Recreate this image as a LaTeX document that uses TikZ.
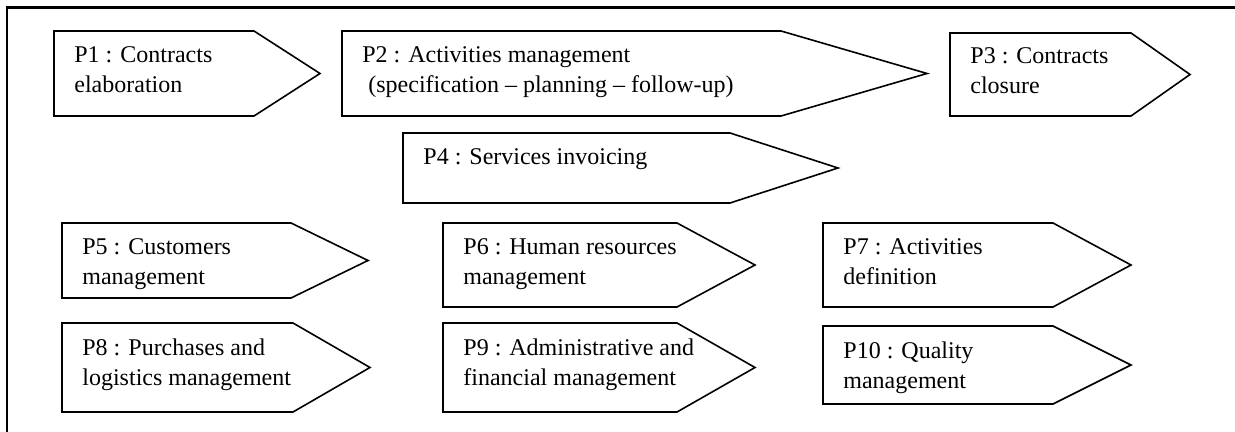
\documentclass[tikz,border=0pt]{standalone}
\usepackage{fontspec}
\setmainfont{Liberation Serif}
\begin{document}
\begin{tikzpicture}[x=0.5pt,y=-0.5pt,
    procline/.style={draw,line width=0.8pt,line join=miter},
    proctext/.style={anchor=base west,inner sep=0pt,align=left,
      font=\fontsize{12pt}{15pt}\selectfont}]
      \useasboundingbox (0,0) rectangle (1235,432);
      % frame
      \coordinate (fbot) at (7,432);
      \coordinate (fcorner) at (7,7.5);
      \coordinate (fright) at (1235,7.5);
      \draw[line width=1.2pt] (fbot) -- (fcorner) -- (fright);
      % first row
      \draw[procline] (54,31) -- (254,31) -- (320,73.5) -- (254,116) -- (54,116) -- cycle;
      \node[proctext] (P1) at (74,93) {P1 : Contracts\\elaboration};
      \draw[procline] (342,31) -- (781,31) -- (927,73.5) -- (781,116) -- (342,116) -- cycle;
      \node[proctext] (P2) at (362,93) {P2 : Activities management\\\hspace{3pt}(specification -- planning -- follow-up)};
      \draw[procline] (950,33) -- (1131,33) -- (1190,74.5) -- (1131,116) -- (950,116) -- cycle;
      \node[proctext] (P3) at (970,94) {P3 : Contracts\\closure};
      \draw[procline] (403,133) -- (730,133) -- (838,168) -- (730,203) -- (403,203) -- cycle;
      \node[proctext] (P4) at (423,165) {P4 : Services invoicing};
      % support processes
      \draw[procline] (62,223) -- (291,223) -- (368,260.5) -- (291,298) -- (62,298) -- cycle;
      \node[proctext] (P5) at (82,285) {P5 : Customers\\management};
      \draw[procline] (443,223) -- (677,223) -- (755,265) -- (677,307) -- (443,307) -- cycle;
      \node[proctext] (P6) at (463,285) {P6 : Human resources\\management};
      \draw[procline] (823,223) -- (1053,223) -- (1131,265) -- (1053,307) -- (823,307) -- cycle;
      \node[proctext] (P7) at (843,285) {P7 : Activities\\definition};
      \draw[procline] (62,323) -- (293,323) -- (370,367.5) -- (293,412) -- (62,412) -- cycle;
      \node[proctext] (P8) at (82,385) {P8 : Purchases and\\logistics management};
      \draw[procline] (443,323) -- (677,323) -- (755,367.5) -- (677,412) -- (443,412) -- cycle;
      \node[proctext] (P9) at (463,385) {P9 : Administrative and\\financial management};
      \draw[procline] (823,326) -- (1053,326) -- (1131,365) -- (1053,404) -- (823,404) -- cycle;
      \node[proctext] (P10) at (843,388) {P10 : Quality\\management};
\end{tikzpicture}
\end{document}
